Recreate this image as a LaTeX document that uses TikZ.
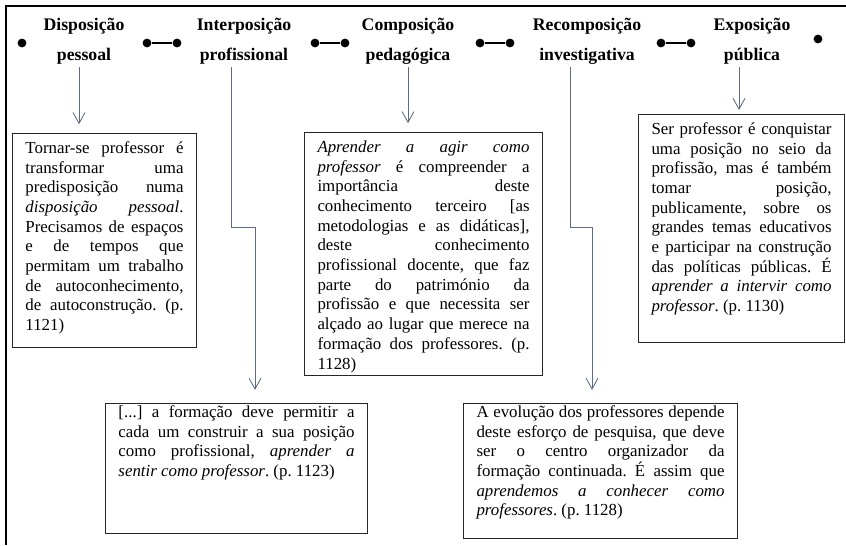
\documentclass[tikz,border=0pt]{standalone}
\usepackage{fontspec}
\setmainfont{Liberation Serif}
\usepackage{tikz}
\usetikzlibrary{arrows.meta,positioning,calc}
\definecolor{linkgray}{RGB}{92,106,130}
\hbadness=10000
\hyphenpenalty=10000
\exhyphenpenalty=10000
\tolerance=10000
\frenchspacing

\begin{document}
\begin{tikzpicture}[x=0.025cm, y=-0.025cm,
    head/.style={font=\bfseries\fontsize{12.6}{21.3}\selectfont, align=center, inner sep=2pt},
    quote/.style={draw=black!85, line width=0.7pt, anchor=north west, align=justify,
        font=\fontsize{12}{14}\selectfont, inner xsep=0.325cm, inner ysep=0.2cm, text height=0.3cm},
    dot/.style={circle, fill=black, inner sep=0pt, minimum size=0.22cm},
    link/.style={line width=1.3pt},
    arrow/.style={draw=linkgray, line width=0.6pt, -{Straight Barb[length=0.27cm, width=0.3cm]}, shorten >=0.22cm}
]
\useasboundingbox (0,0) rectangle (846,545);

% Frame
\draw[line width=1.5pt] (6,545) |- (846,6);

% Stages
\node[head] (h1) at (84,41) {Disposição\\pessoal};
\node[head] (h2) at (244,41) {Interposição\\profissional};
\node[head] (h3) at (408,41) {Composição\\pedagógica};
\node[head] (h4) at (587,41) {Recomposição\\investigativa};
\node[head] (h5) at (752,41) {Exposição\\pública};

% Dots between the stages
\node[dot] (s0) at (22,43) {};
\node[dot] (s5) at (818,39) {};
\foreach \x [count=\i] in {162,330,495,676} {
    \node[dot] (la\i) at (\x-15,43) {};
    \node[dot] (lb\i) at (\x+15,43) {};
    \draw[link] (la\i) -- (lb\i);
}

% Quotes
\node[quote, text width=3.95cm, text depth=4.65cm] (b1) at (12,133) {Tornar-se professor é\linebreak
    transformar uma\linebreak predisposição numa\linebreak \textit{disposição pessoal}.\linebreak
    Precisamos de espaços\linebreak e de tempos que\linebreak permitam um trabalho\linebreak
    de autoconhecimento,\linebreak de autoconstrução. (p.\linebreak 1121)};
\node[quote, text width=5.3cm, text depth=5.375cm] (b3) at (304,132) {\textit{Aprender a agir como\linebreak
    professor} é compreender a\linebreak importância deste\linebreak conhecimento terceiro [as\linebreak
    metodologias e as didáticas],\linebreak deste conhecimento\linebreak profissional docente, que faz\linebreak
    parte do património da\linebreak profissão e que necessita ser\linebreak alçado ao lugar que merece na\linebreak
    formação dos professores. (p.\linebreak 1128)};
\node[quote, text width=4.5cm, text depth=5.0cm] (b4) at (638,114) {Ser professor é conquistar\linebreak
    uma posição no seio da\linebreak profissão, mas é também\linebreak tomar posição,\linebreak
    publicamente, sobre os\linebreak grandes temas educativos\linebreak e participar na construção\linebreak
    das políticas públicas. É\linebreak \textit{aprender a intervir como\linebreak professor}. (p. 1130)};
\node[quote, text width=5.9cm, text height=0.15cm, text depth=2.7cm] (b2) at (105,403) {[...] a formação deve permitir a\linebreak
    cada um construir a sua posição\linebreak como profissional, \textit{aprender a\linebreak
    sentir como professor}. (p. 1123)};
\node[quote, text width=6.2cm, text height=0.15cm, text depth=2.825cm] (b5) at (463,403) {A evolução dos professores depende\linebreak
    deste esforço de pesquisa, que deve\linebreak ser o centro organizador da\linebreak
    formação continuada. É assim que\linebreak \textit{aprendemos a conhecer como\linebreak
    professores}. (p. 1128)};

% Arrows
\draw[arrow] (79,0 |- h1.south) -- (79,0 |- b1.north);
\draw[arrow, shorten >=0.33cm] (231,0 |- h2.south) |- (255,227) -- (255,0 |- b2.north);
\draw[arrow] (408,0 |- h3.south) -- (408,0 |- b3.north);
\draw[arrow, shorten >=0.33cm] (570,0 |- h4.south) |- (592,227) -- (592,0 |- b5.north);
\draw[arrow, shorten >=0.1cm] (739,0 |- h5.south) -- (739,0 |- b4.north);

\end{tikzpicture}
\end{document}
